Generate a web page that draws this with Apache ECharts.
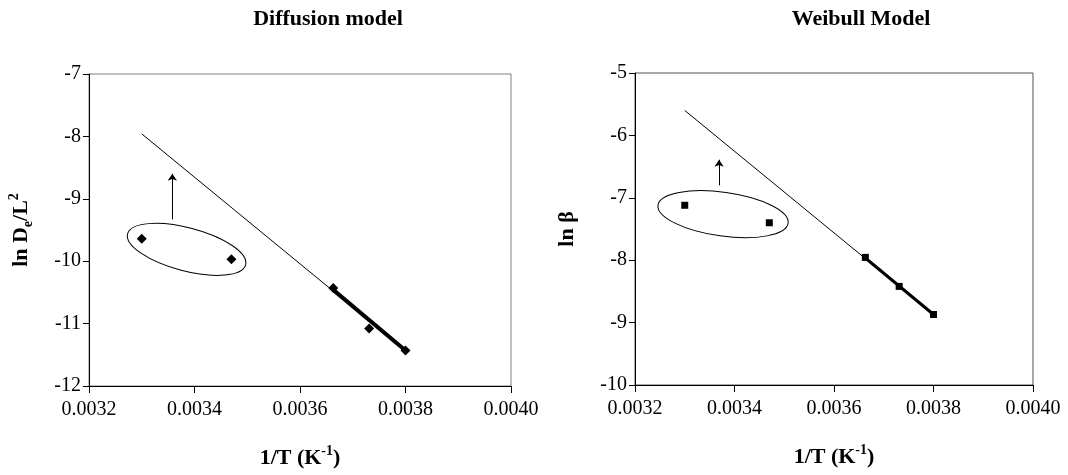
<!DOCTYPE html>
<html>
<head>
<meta charset="utf-8">
<script src="https://cdn.jsdelivr.net/npm/echarts@6/dist/echarts.min.js"></script>
<style>
  html, body { margin: 0; padding: 0; background: #fff; }
  #main { width: 1068px; height: 475px; }
</style>
</head>
<body>
<div id="main"></div>
<script>
// 1/T values (K^-1), same temperatures in both panels
var invT = [0.0033, 0.00347, 0.003663, 0.003731, 0.0038];
// diffusion model: ln(De/L^2)
var lnDe = [-9.64, -9.97, -10.43, -11.08, -11.43];
// Weibull model: ln(beta)
var lnBeta = [-7.12, -7.40, -7.955, -8.42, -8.87];

// Arrhenius fit lines
var diffFitX = [0.0033, 0.0038];
var diffFitY = [-7.96, -11.43];
var diffBoldX = [0.003663, 0.0038];
var diffBoldY = [-10.46, -11.43];
var weibFitX = [0.0033, 0.0038];
var weibFitY = [-5.60, -8.87];
var weibBoldX = [0.003663, 0.0038];
var weibBoldY = [-7.965, -8.87];

// annotation: arrows and ellipse centres
var diffArrowX = 0.003358;
var diffArrowY = [-9.33, -8.60];
var weibArrowX = 0.003369;
var weibArrowY = [-6.80, -6.39];
var diffEllipse = [0.003385, -9.81];
var weibEllipse = [0.003377, -7.262];

var xTicks = ['0.0032', '0.0034', '0.0036', '0.0038', '0.0040'];

var FONT = '"Liberation Serif", "Times New Roman", serif';

function pairs(xs, ys) {
  return xs.map(function (x, i) { return [x, ys[i]]; });
}

function ellipseRenderer(rx, ry, deg) {
  return function (params, api) {
    var p = api.coord([api.value(0), api.value(1)]);
    return {
      type: 'ellipse',
      x: p[0],
      y: p[1],
      rotation: -deg * Math.PI / 180,
      shape: { cx: 0, cy: 0, rx: rx, ry: ry },
      style: { fill: 'none', stroke: '#000', lineWidth: 1 }
    };
  };
}

var richName = {
  b: { fontFamily: FONT, fontSize: 22, fontWeight: 'bold', color: '#000', lineHeight: 28 },
  sub: { fontFamily: FONT, fontSize: 14, fontWeight: 'bold', color: '#000', verticalAlign: 'bottom', lineHeight: 14 },
  sup: { fontFamily: FONT, fontSize: 14, fontWeight: 'bold', color: '#000', verticalAlign: 'top', lineHeight: 14 }
};

function xAxisOf(gi) {
  return {
    gridIndex: gi,
    type: 'value',
    min: 0.0032,
    max: 0.004,
    interval: 0.0002,
    name: '{b|1/T (K}{sup|-1}{b|)}',
    nameLocation: 'middle',
    nameGap: 58,
    nameTextStyle: { rich: richName },
    axisLine: { show: true, lineStyle: { color: '#000', width: 1 } },
    axisTick: { show: true, length: 7, lineStyle: { color: '#000' } },
    axisLabel: {
      margin: 14,
      fontFamily: FONT,
      fontSize: 20,
      color: '#000',
      formatter: function (v) { return xTicks[Math.round((v - 0.0032) / 0.0002)]; }
    },
    splitLine: { show: false }
  };
}

function yAxisOf(gi, min, max, name, gap) {
  return {
    gridIndex: gi,
    type: 'value',
    min: min,
    max: max,
    interval: 1,
    name: name,
    nameLocation: 'middle',
    nameGap: gap,
    nameTextStyle: { rich: richName },
    axisLine: { show: true, lineStyle: { color: '#000', width: 1 } },
    axisTick: { show: true, length: 6, lineStyle: { color: '#000' } },
    axisLabel: { margin: 8, fontFamily: FONT, fontSize: 20, color: '#000' },
    splitLine: { show: false }
  };
}

var chart = echarts.init(document.getElementById('main'), null, { renderer: 'canvas' });

var option = {
  backgroundColor: '#fff',
  animation: false,
  title: [
    {
      text: 'Diffusion model',
      left: 323, top: 3, textAlign: 'center',
      textStyle: { fontFamily: FONT, fontSize: 22, fontWeight: 'bold', color: '#000' }
    },
    {
      text: 'Weibull Model',
      left: 856, top: 3, textAlign: 'center',
      textStyle: { fontFamily: FONT, fontSize: 22, fontWeight: 'bold', color: '#000' }
    }
  ],
  grid: [
    { left: 89, top: 74, width: 422, height: 312, show: true, borderColor: '#808080', borderWidth: 1 },
    { left: 635, top: 73, width: 398, height: 312, show: true, borderColor: '#505050', borderWidth: 1 }
  ],
  xAxis: [xAxisOf(0), xAxisOf(1)],
  yAxis: [
    yAxisOf(0, -12, -7, '{b|ln D}{sub|e}{b|/L}{sup|2}', 54),
    yAxisOf(1, -10, -5, '{b|ln β}', 54)
  ],
  series: [
    // ---- diffusion model ----
    {
      type: 'line', xAxisIndex: 0, yAxisIndex: 0,
      data: pairs(diffFitX, diffFitY),
      showSymbol: false, lineStyle: { color: '#000', width: 1 }, z: 2
    },
    {
      type: 'line', xAxisIndex: 0, yAxisIndex: 0,
      data: pairs(diffBoldX, diffBoldY),
      showSymbol: false, lineStyle: { color: '#000', width: 4 }, z: 3
    },
    {
      type: 'scatter', xAxisIndex: 0, yAxisIndex: 0,
      data: pairs(invT, lnDe),
      symbol: 'diamond', symbolSize: 10,
      itemStyle: { color: '#000', opacity: 1 }, z: 4
    },
    {
      type: 'lines', coordinateSystem: 'cartesian2d', xAxisIndex: 0, yAxisIndex: 0,
      data: [{ coords: [[diffArrowX, diffArrowY[0]], [diffArrowX, diffArrowY[1]]] }],
      symbol: ['none', 'arrow'], symbolSize: 7,
      lineStyle: { color: '#000', width: 1, opacity: 1 }, z: 2
    },
    {
      type: 'custom', xAxisIndex: 0, yAxisIndex: 0,
      data: [diffEllipse],
      renderItem: ellipseRenderer(61, 21.6, 14.7), z: 2
    },
    // ---- Weibull model ----
    {
      type: 'line', xAxisIndex: 1, yAxisIndex: 1,
      data: pairs(weibFitX, weibFitY),
      showSymbol: false, lineStyle: { color: '#000', width: 1 }, z: 2
    },
    {
      type: 'line', xAxisIndex: 1, yAxisIndex: 1,
      data: pairs(weibBoldX, weibBoldY),
      showSymbol: false, lineStyle: { color: '#000', width: 3 }, z: 3
    },
    {
      type: 'scatter', xAxisIndex: 1, yAxisIndex: 1,
      data: pairs(invT, lnBeta),
      symbol: 'rect', symbolSize: 7,
      itemStyle: { color: '#000', opacity: 1 }, z: 4
    },
    {
      type: 'lines', coordinateSystem: 'cartesian2d', xAxisIndex: 1, yAxisIndex: 1,
      data: [{ coords: [[weibArrowX, weibArrowY[0]], [weibArrowX, weibArrowY[1]]] }],
      symbol: ['none', 'arrow'], symbolSize: 7,
      lineStyle: { color: '#000', width: 1, opacity: 1 }, z: 2
    },
    {
      type: 'custom', xAxisIndex: 1, yAxisIndex: 1,
      data: [weibEllipse],
      renderItem: ellipseRenderer(65.7, 21.9, 7.9), z: 2
    }
  ]
};

chart.setOption(option);
</script>
</body>
</html>
